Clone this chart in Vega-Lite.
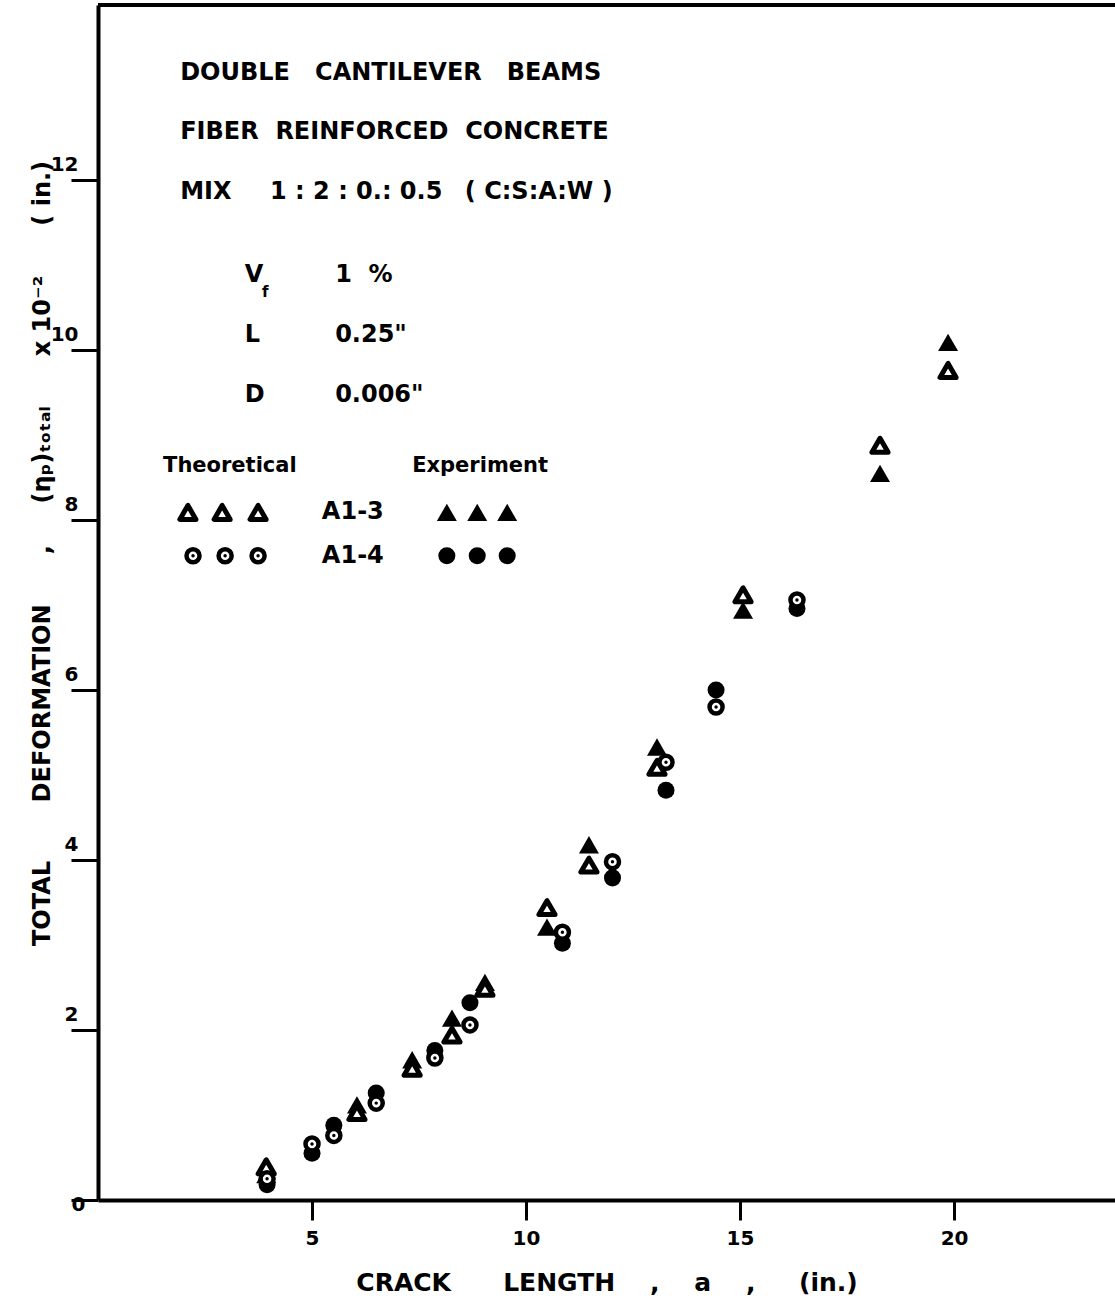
{
  "$schema": "https://vega.github.io/schema/vega-lite/v6.json",
  "width": 1017,
  "height": 1195,
  "autosize": {"type": "none"},
  "padding": {"left": 98, "top": 5, "right": 0, "bottom": 110},
  "background": "white",
  "config": {
    "view": {"stroke": null},
    "font": "DejaVu Sans",
    "axis": {"grid": false, "domainColor": "black", "domainWidth": 4, "tickColor": "black", "tickWidth": 3, "labelColor": "black", "titleColor": "black", "labelFont": "DejaVu Sans", "titleFont": "DejaVu Sans", "labelFontWeight": "bold", "titleFontWeight": "bold"}
  },
  "datasets": {
    "pts": [
      {"x": 3.93, "y": 0.39, "s": "A1-3 theory"},
      {"x": 6.05, "y": 1.03, "s": "A1-3 theory"},
      {"x": 7.34, "y": 1.55, "s": "A1-3 theory"},
      {"x": 8.27, "y": 1.94, "s": "A1-3 theory"},
      {"x": 9.04, "y": 2.49, "s": "A1-3 theory"},
      {"x": 10.49, "y": 3.44, "s": "A1-3 theory"},
      {"x": 11.47, "y": 3.94, "s": "A1-3 theory"},
      {"x": 13.06, "y": 5.09, "s": "A1-3 theory"},
      {"x": 15.07, "y": 7.12, "s": "A1-3 theory"},
      {"x": 18.27, "y": 8.88, "s": "A1-3 theory"},
      {"x": 19.86, "y": 9.76, "s": "A1-3 theory"},
      {"x": 3.93, "y": 0.3, "s": "A1-3 exp"},
      {"x": 6.05, "y": 1.12, "s": "A1-3 exp"},
      {"x": 7.34, "y": 1.65, "s": "A1-3 exp"},
      {"x": 8.27, "y": 2.14, "s": "A1-3 exp"},
      {"x": 9.04, "y": 2.56, "s": "A1-3 exp"},
      {"x": 10.49, "y": 3.21, "s": "A1-3 exp"},
      {"x": 11.47, "y": 4.18, "s": "A1-3 exp"},
      {"x": 13.06, "y": 5.33, "s": "A1-3 exp"},
      {"x": 15.07, "y": 6.94, "s": "A1-3 exp"},
      {"x": 18.27, "y": 8.55, "s": "A1-3 exp"},
      {"x": 19.86, "y": 10.09, "s": "A1-3 exp"},
      {"x": 3.95, "y": 0.25, "s": "A1-4 theory"},
      {"x": 5.0, "y": 0.66, "s": "A1-4 theory"},
      {"x": 5.51, "y": 0.76, "s": "A1-4 theory"},
      {"x": 6.5, "y": 1.14, "s": "A1-4 theory"},
      {"x": 7.87, "y": 1.67, "s": "A1-4 theory"},
      {"x": 8.69, "y": 2.06, "s": "A1-4 theory"},
      {"x": 10.85, "y": 3.15, "s": "A1-4 theory"},
      {"x": 12.02, "y": 3.98, "s": "A1-4 theory"},
      {"x": 13.27, "y": 5.15, "s": "A1-4 theory"},
      {"x": 14.44, "y": 5.8, "s": "A1-4 theory"},
      {"x": 16.33, "y": 7.06, "s": "A1-4 theory"},
      {"x": 3.95, "y": 0.18, "s": "A1-4 exp"},
      {"x": 5.0, "y": 0.55, "s": "A1-4 exp"},
      {"x": 5.51, "y": 0.88, "s": "A1-4 exp"},
      {"x": 6.5, "y": 1.26, "s": "A1-4 exp"},
      {"x": 7.87, "y": 1.76, "s": "A1-4 exp"},
      {"x": 8.69, "y": 2.32, "s": "A1-4 exp"},
      {"x": 10.85, "y": 3.02, "s": "A1-4 exp"},
      {"x": 12.02, "y": 3.79, "s": "A1-4 exp"},
      {"x": 13.27, "y": 4.82, "s": "A1-4 exp"},
      {"x": 14.44, "y": 6.0, "s": "A1-4 exp"},
      {"x": 16.33, "y": 6.96, "s": "A1-4 exp"},
      {"x": 2.1, "y": 8.09, "s": "A1-3 theory"},
      {"x": 2.9, "y": 8.09, "s": "A1-3 theory"},
      {"x": 3.74, "y": 8.09, "s": "A1-3 theory"},
      {"x": 8.15, "y": 8.09, "s": "A1-3 exp"},
      {"x": 8.86, "y": 8.09, "s": "A1-3 exp"},
      {"x": 9.56, "y": 8.09, "s": "A1-3 exp"},
      {"x": 2.22, "y": 7.58, "s": "A1-4 theory"},
      {"x": 2.97, "y": 7.58, "s": "A1-4 theory"},
      {"x": 3.74, "y": 7.58, "s": "A1-4 theory"},
      {"x": 8.15, "y": 7.58, "s": "A1-4 exp"},
      {"x": 8.86, "y": 7.58, "s": "A1-4 exp"},
      {"x": 9.56, "y": 7.58, "s": "A1-4 exp"}
    ],
    "big": [
      {"x": 1.92, "y": 13.26, "t": "DOUBLE\u00a0\u00a0\u00a0CANTILEVER\u00a0\u00a0\u00a0BEAMS"},
      {"x": 1.92, "y": 12.56, "t": "FIBER\u00a0\u00a0REINFORCED\u00a0\u00a0CONCRETE"},
      {"x": 1.92, "y": 11.86, "t": "MIX"},
      {"x": 4.02, "y": 11.86, "t": "1 : 2 : 0.: 0.5"},
      {"x": 8.57, "y": 11.86, "t": "(\u00a0C:S:A:W\u00a0)"},
      {"x": 3.43, "y": 10.88, "t": "V"},
      {"x": 5.54, "y": 10.88, "t": "1\u00a0\u00a0%"},
      {"x": 3.43, "y": 10.18, "t": "L"},
      {"x": 5.54, "y": 10.18, "t": "0.25\""},
      {"x": 3.43, "y": 9.47, "t": "D"},
      {"x": 5.54, "y": 9.47, "t": "0.006\""},
      {"x": 5.23, "y": 8.09, "t": "A1-3"},
      {"x": 5.23, "y": 7.58, "t": "A1-4"}
    ],
    "small": [
      {"x": 1.52, "y": 8.64, "t": "Theoretical"},
      {"x": 7.34, "y": 8.64, "t": "Experiment"}
    ],
    "sub": [
      {"x": 3.83, "y": 10.68, "t": "f"}
    ]
  },
  "layer": [
    {
      "data": {"values": [{}]},
      "mark": {"type": "rule", "strokeWidth": 4, "color": "black"},
      "encoding": {"y": {"datum": 14.06, "type": "quantitative", "scale": {"domain": [0, 14.06], "nice": false}}}
    },
    {
      "data": {"name": "pts"},
      "transform": [{"filter": "datum.s == 'A1-3 exp'"}],
      "mark": {"type": "point", "shape": "triangle-up", "filled": true, "color": "black", "size": 400, "opacity": 1},
      "encoding": {
        "x": {"field": "x", "type": "quantitative", "scale": {"domain": [0, 23.76], "nice": false, "zero": false},
          "axis": {"values": [5, 10, 15, 20], "format": "d", "tickSize": 20, "labelFontSize": 20, "labelPadding": 8, "title": "CRACK\u00a0\u00a0\u00a0\u00a0\u00a0\u00a0LENGTH\u00a0\u00a0\u00a0\u00a0,\u00a0\u00a0\u00a0\u00a0a\u00a0\u00a0\u00a0\u00a0,\u00a0\u00a0\u00a0\u00a0\u00a0(in.)", "titleFontSize": 25, "titlePadding": 22}},
        "y": {"field": "y", "type": "quantitative", "scale": {"domain": [0, 14.06], "nice": false},
          "axis": {"values": [0, 2, 4, 6, 8, 10, 12], "format": "d", "tickSize": 27, "labelFontSize": 20,
            "labelOffset": {"condition": {"test": "datum.value == 0", "value": 4}, "value": -16},
            "labelPadding": {"condition": {"test": "datum.value == 0", "value": -14}, "value": -7},
            "title": "TOTAL\u00a0\u00a0\u00a0\u00a0\u00a0\u00a0\u00a0DEFORMATION\u00a0\u00a0\u00a0\u00a0\u00a0\u00a0,\u00a0\u00a0\u00a0\u00a0\u00a0(ηₚ)ₜₒₜₐₗ\u00a0\u00a0\u00a0\u00a0\u00a0\u00a0x 10⁻²\u00a0\u00a0\u00a0\u00a0\u00a0\u00a0(\u00a0in.)", "titleFontSize": 24, "titleX": -56, "titleY": 548, "titleAngle": -90, "titleBaseline": "middle", "titleAlign": "center"}}
      }
    },
    {
      "data": {"name": "pts"},
      "transform": [{"filter": "datum.s == 'A1-4 exp'"}],
      "mark": {"type": "point", "shape": "circle", "filled": true, "color": "black", "size": 290, "opacity": 1},
      "encoding": {
        "x": {"field": "x", "type": "quantitative"},
        "y": {"field": "y", "type": "quantitative"}
      }
    },
    {
      "data": {"name": "pts"},
      "transform": [{"filter": "datum.s == 'A1-3 theory'"}],
      "mark": {"type": "point", "shape": "triangle-up", "filled": true, "fill": "white", "stroke": "black", "strokeWidth": 5, "strokeJoin": "round", "size": 260, "opacity": 1},
      "encoding": {
        "x": {"field": "x", "type": "quantitative"},
        "y": {"field": "y", "type": "quantitative"}
      }
    },
    {
      "data": {"name": "pts"},
      "transform": [{"filter": "datum.s == 'A1-4 theory'"}],
      "mark": {"type": "point", "shape": "circle", "filled": true, "fill": "white", "stroke": "black", "strokeWidth": 4.5, "size": 170, "opacity": 1},
      "encoding": {
        "x": {"field": "x", "type": "quantitative"},
        "y": {"field": "y", "type": "quantitative"}
      }
    },
    {
      "data": {"name": "pts"},
      "transform": [{"filter": "datum.s == 'A1-4 theory'"}],
      "mark": {"type": "point", "shape": "circle", "filled": true, "color": "black", "size": 12, "opacity": 1},
      "encoding": {
        "x": {"field": "x", "type": "quantitative"},
        "y": {"field": "y", "type": "quantitative"}
      }
    },
    {
      "data": {"name": "big"},
      "mark": {"type": "text", "align": "left", "baseline": "middle", "fontSize": 24, "fontWeight": "bold", "color": "black", "font": "DejaVu Sans"},
      "encoding": {
        "x": {"field": "x", "type": "quantitative"},
        "y": {"field": "y", "type": "quantitative"},
        "text": {"field": "t"}
      }
    },
    {
      "data": {"name": "small"},
      "mark": {"type": "text", "align": "left", "baseline": "middle", "fontSize": 21, "fontWeight": "bold", "color": "black", "font": "DejaVu Sans"},
      "encoding": {
        "x": {"field": "x", "type": "quantitative"},
        "y": {"field": "y", "type": "quantitative"},
        "text": {"field": "t"}
      }
    },
    {
      "data": {"name": "sub"},
      "mark": {"type": "text", "align": "left", "baseline": "middle", "fontSize": 15, "fontWeight": "bold", "color": "black", "font": "DejaVu Sans"},
      "encoding": {
        "x": {"field": "x", "type": "quantitative"},
        "y": {"field": "y", "type": "quantitative"},
        "text": {"field": "t"}
      }
    }
  ]
}
